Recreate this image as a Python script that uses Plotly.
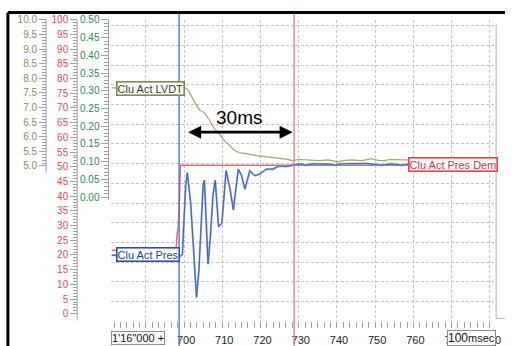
import plotly.graph_objects as go

W, H = 512, 346

# ---- time axis (ms) ----
T_RANGE = [681.0, 781.0]
X_TICKS = [690, 700, 710, 720, 730, 740, 750, 760, 770, 780]

# ---- clutch actuator LVDT (left olive scale) ----
lvdt_t = [681.0, 700.3, 700.9, 701.8, 702.7, 703.5, 704.2, 705.5, 706.8, 707.8,
          709.1, 710.4, 711.7, 713.0, 714.3, 716.3, 718.9, 721.5, 724.1, 726.7,
          728.5, 729.2, 730.5, 731.8, 733.5, 735.2, 737.8, 740.3, 742.0, 743.9,
          746.5, 749.1, 750.8, 752.4, 754.0, 755.8, 757.6, 760.0, 764.0, 768.0,
          772.0, 776.0, 781.0]
lvdt_v = [7.67, 7.67, 7.62, 7.40, 7.20, 7.02, 6.90, 6.80, 6.53, 6.29,
          6.12, 5.89, 5.72, 5.55, 5.45, 5.42, 5.35, 5.31, 5.28, 5.23,
          5.18, 5.21, 5.22, 5.21, 5.19, 5.18, 5.21, 5.14, 5.19, 5.21,
          5.18, 5.25, 5.19, 5.18, 5.22, 5.21, 5.21, 5.20, 5.22, 5.20,
          5.21, 5.20, 5.21]

# ---- clutch actuator pressure (red scale) ----
pres_t = [681.0, 698.5, 698.9, 699.56, 700.0, 700.41, 700.85, 701.70, 702.40, 702.99,
          703.25, 703.87, 704.28, 704.98, 705.32, 705.83, 706.27, 706.86, 707.56, 708.15,
          708.59, 709.03, 709.88, 710.48, 711.0, 712.03, 712.90, 713.75, 714.19, 715.05,
          715.90, 717.19, 718.48, 719.77, 721.50, 723.23, 724.93, 726.66, 728.80, 730.5,
          732.0, 733.5, 738.0, 739.5, 741.0, 748.0, 752.0, 754.0, 757.0, 759.0,
          781.0]
pres_v = [19.9, 19.9, 19.5, 20.2, 32.4, 43.7, 48.0, 38.0, 23.6, 10.2,
          5.6, 14.5, 26.9, 43.7, 45.4, 32.4, 16.9, 25.7, 40.3, 45.4,
          38.0, 29.6, 30.7, 41.3, 48.7, 42.4, 35.3, 44.7, 49.2, 47.0,
          42.4, 48.6, 47.0, 47.5, 49.2, 49.2, 50.3, 50.1, 50.5, 51.0,
          50.5, 51.0, 50.9, 50.5, 51.0, 51.1, 50.5, 51.0, 50.5, 51.0,
          51.0]

# ---- clutch actuator pressure demand (red scale) ----
dem_t = [681.0, 697.9, 698.1, 698.5, 698.7, 698.9, 699.05, 781.0]
dem_v = [21.6, 21.6, 26.0, 30.0, 36.0, 45.0, 50.5, 50.5]

# ---- cursors and span marker ----
CURSOR_A = 698.7
CURSOR_B = 728.8
ARROW_START = 700.67
ARROW_END = 728.4

# ---- scale labels ----
RED_TICKS = list(range(0, 101, 5))
OLIVE_TICKS = [5.0 + 0.5 * i for i in range(11)]
GREEN_TICKS = [0.05 * i for i in range(11)]

OLIVE_TXT = '#8c8c5a'
OLIVE_LINE = '#a3a36e'
OLIVE_BOX = '#85854a'
RED_TXT = '#ec4a55'
RED_LINE = '#f2646e'
GREEN_TXT = '#2b8a57'
BLUE_LINE = '#3b62bd'
BLUE_HALO = '#8fa8dc'
GRID = '#c4c4c4'
TICK = '#a0a0a0'
FONT = 'Liberation Sans, Arial, sans-serif'


def px(x):
    return x / W


def py(y):
    return 1 - y / H


X_DOM = [px(113), px(500.5)]
Y_DOM = [py(321), py(15)]

fig = go.Figure()

# empty traces keep the grid scale and the green scale on the subplot
fig.add_trace(go.Scatter(x=[], y=[], yaxis='y', showlegend=False, hoverinfo='skip'))
fig.add_trace(go.Scatter(x=[], y=[], yaxis='y4', showlegend=False, hoverinfo='skip'))

fig.add_trace(go.Scatter(x=lvdt_t, y=lvdt_v, yaxis='y3', mode='lines',
                         line=dict(color=OLIVE_LINE, width=1.2), showlegend=False))
fig.add_trace(go.Scatter(x=dem_t, y=dem_v, yaxis='y2', mode='lines',
                         line=dict(color=RED_LINE, width=1.5), showlegend=False))
fig.add_trace(go.Scatter(x=pres_t, y=pres_v, yaxis='y2', mode='lines',
                         line=dict(color=BLUE_HALO, width=2.0), showlegend=False,
                         hoverinfo='skip'))
fig.add_trace(go.Scatter(x=pres_t, y=pres_v, yaxis='y2', mode='lines',
                         line=dict(color=BLUE_LINE, width=1.0), showlegend=False))


def minor_vals(majors, step, n):
    vals = []
    for a in majors[:-1]:
        for k in range(1, n):
            vals.append(round(a + k * step, 4))
    return vals


def free_axis(pos, rng, ticks, labels, color, minors):
    return dict(
        overlaying='y', anchor='free', position=pos, side='left',
        domain=Y_DOM, range=rng,
        tickmode='array', tickvals=ticks, ticktext=labels,
        ticks='outside', ticklen=7, tickcolor=TICK, tickwidth=1,
        tickfont=dict(family=FONT, size=10, color=color),
        minor=dict(tickmode='array', tickvals=minors, ticks='outside',
                   ticklen=4, tickcolor=TICK, showgrid=False),
        showgrid=False, zeroline=False, showline=False,
    )


red_pos, olive_pos, green_pos = px(78.3), px(46.7), px(110)

fig.update_layout(
    width=W, height=H,
    margin=dict(l=0, r=0, t=0, b=0),
    paper_bgcolor='white', plot_bgcolor='white',
    showlegend=False,
    font=dict(family=FONT, color='#222222'),
    xaxis=dict(
        domain=X_DOM, range=T_RANGE,
        tickmode='array', tickvals=X_TICKS, ticktext=[str(v) for v in X_TICKS],
        ticks='outside', ticklen=6, tickcolor=TICK,
        ticklabelstandoff=2, ticklabelshift=2,
        tickfont=dict(family=FONT, size=11, color='#222222'),
        minor=dict(tick0=680, dtick=10 / 6, ticks='outside', ticklen=6,
                   tickcolor=TICK, showgrid=False),
        showgrid=True, gridcolor=GRID, griddash='3px,2px', gridwidth=1,
        zeroline=False, showline=False,
    ),
    yaxis=dict(
        domain=Y_DOM, range=[0, 306],
        tickmode='array', tickvals=list(range(20, 301, 20)),
        showticklabels=False, ticks='',
        showgrid=True, gridcolor=GRID, griddash='3px,2px', gridwidth=1,
        zeroline=False, showline=False,
    ),
    yaxis2=free_axis(red_pos, [-2.58, 100], RED_TICKS, [str(v) for v in RED_TICKS],
                     RED_TXT, minor_vals(RED_TICKS, 1, 5)),
    yaxis3=free_axis(olive_pos, [-0.317, 10], OLIVE_TICKS, [f'{v:.1f}' for v in OLIVE_TICKS],
                     OLIVE_TXT, minor_vals(OLIVE_TICKS, 0.1, 5)),
    yaxis4=free_axis(green_pos, [-0.35, 0.5], GREEN_TICKS, [f'{v:.2f}' for v in GREEN_TICKS],
                     GREEN_TXT, minor_vals(GREEN_TICKS, 0.01, 5)),
)

shapes = []
# scale spines
shapes.append(dict(type='line', xref='paper', yref='y3', x0=olive_pos, x1=olive_pos,
                   y0=4.78, y1=10, line=dict(color=TICK, width=1)))
shapes.append(dict(type='line', xref='paper', yref='y2', x0=red_pos, x1=red_pos,
                   y0=-2.3, y1=100, line=dict(color=TICK, width=1)))
shapes.append(dict(type='line', xref='paper', yref='y4', x0=green_pos, x1=green_pos,
                   y0=-0.008, y1=0.5, line=dict(color=TICK, width=1)))
# window frame
shapes.append(dict(type='line', xref='paper', yref='paper', x0=px(8), x1=1,
                   y0=py(7.7), y1=py(7.7), line=dict(color='black', width=3)))
shapes.append(dict(type='line', xref='paper', yref='paper', x0=px(8), x1=px(8),
                   y0=py(7.7), y1=0, line=dict(color='black', width=3)))
shapes.append(dict(type='line', xref='paper', yref='paper', x0=px(503), x1=px(503),
                   y0=py(20), y1=py(318), line=dict(color='#b4b4b4', width=1)))
shapes.append(dict(type='line', xref='paper', yref='paper', x0=px(503), x1=1,
                   y0=py(318), y1=py(318), line=dict(color='#b4b4b4', width=1)))
# cursors
shapes.append(dict(type='line', xref='x', yref='paper', x0=CURSOR_A, x1=CURSOR_A,
                   y0=0, y1=py(8.5), layer='above', line=dict(color='#4470c4', width=1.3)))
shapes.append(dict(type='line', xref='x', yref='paper', x0=CURSOR_B, x1=CURSOR_B,
                   y0=0, y1=py(8.5), layer='above', line=dict(color='#f27078', width=1.3)))
fig.update_layout(shapes=shapes)

ann = []


def tag(x, y, text, border, color, anchor='left', size=11, bw=1.6, pad=0):
    return dict(x=x, y=y, xref='paper', yref='paper', xanchor=anchor, yanchor='middle',
                text=text, showarrow=False, bgcolor='white', bordercolor=border,
                borderwidth=bw, borderpad=pad,
                font=dict(family=FONT, size=size, color=color))


ann.append(tag(px(118), py(85), 'Clu Act LVDT', OLIVE_BOX, '#3a3a22'))
ann.append(tag(px(118), py(253.5), 'Clu Act Pres', '#2a50a8', '#1c3c90'))
ann.append(tag(px(414), py(162), 'Clu Act Pres Dem', '#e8404c', '#e03040'))

# time-base boxes along the bottom
ann.append(tag(px(113), py(338), "1'16\"000 +", '#8c8c8c', '#111111', bw=1, pad=0))
ann.append(tag(px(453), py(337.5), "100<span style='font-size:11px'>msec</span>",
               '#8c8c8c', '#111111', size=12, bw=1, pad=0))

# 30 ms span marker
ann.append(dict(x=ARROW_END, y=py(129), xref='x', yref='paper',
                ax=ARROW_START, ay=0, axref='x', ayref='pixel',
                text='', showarrow=True, arrowside='end+start',
                arrowhead=2, startarrowhead=2, arrowsize=1.0, startarrowsize=1.0,
                arrowwidth=2.6, arrowcolor='black'))
ann.append(dict(x=px(242), y=py(114), xref='paper', yref='paper',
                text='30ms', showarrow=False, xanchor='center', yanchor='middle',
                font=dict(family=FONT, size=19, color='black')))
fig.update_layout(annotations=ann)

fig.write_html('out.html')
